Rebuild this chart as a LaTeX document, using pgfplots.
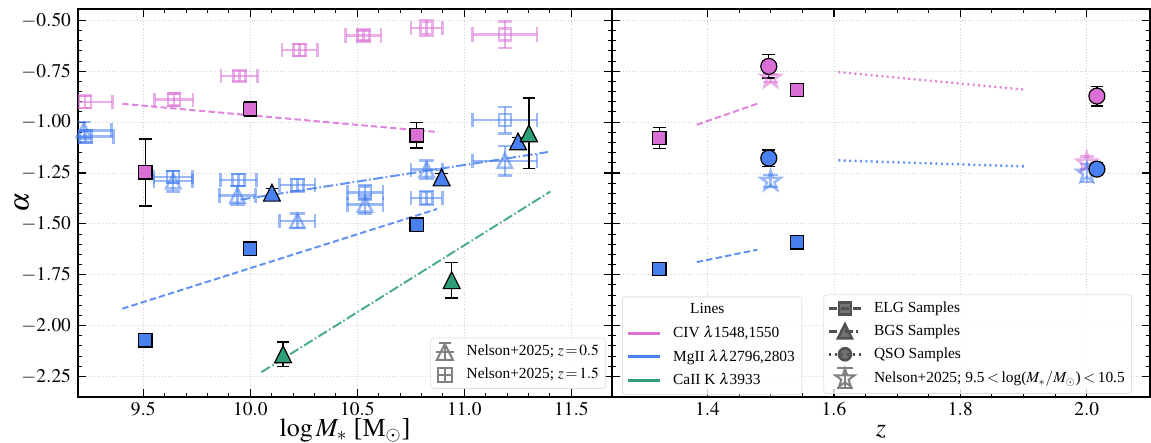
\documentclass[border=0pt]{standalone}
\usepackage{mathptmx}
\usepackage{fontspec}
\setmainfont{Liberation Serif}
\usepackage{pgfplots}
\pgfplotsset{compat=1.18}
\usepackage{pgfplotstable}

\definecolor{cpink}{RGB}{218,112,214}
\definecolor{cblue}{RGB}{72,128,240}
\definecolor{cgreen}{RGB}{46,158,118}
\definecolor{ngray}{RGB}{128,128,128}
\definecolor{dgray}{RGB}{80,80,80}

\pgfdeclareplotmark{mtri}{%
  \pgfpathmoveto{\pgfqpoint{0pt}{\pgfplotmarksize}}%
  \pgfpathlineto{\pgfqpoint{-\pgfplotmarksize}{-\pgfplotmarksize}}%
  \pgfpathlineto{\pgfqpoint{\pgfplotmarksize}{-\pgfplotmarksize}}%
  \pgfpathclose\pgfusepathqfillstroke}
\pgfdeclareplotmark{mtrio}{%
  \pgfpathmoveto{\pgfqpoint{0pt}{\pgfplotmarksize}}%
  \pgfpathlineto{\pgfqpoint{-\pgfplotmarksize}{-\pgfplotmarksize}}%
  \pgfpathlineto{\pgfqpoint{\pgfplotmarksize}{-\pgfplotmarksize}}%
  \pgfpathclose\pgfusepathqstroke}
\pgfdeclareplotmark{fstar}{%
  \pgfpathmoveto{\pgfpointpolar{90}{\pgfplotmarksize}}%
  \pgfpathlineto{\pgfpointpolar{126}{0.382\pgfplotmarksize}}%
  \pgfpathlineto{\pgfpointpolar{162}{\pgfplotmarksize}}%
  \pgfpathlineto{\pgfpointpolar{198}{0.382\pgfplotmarksize}}%
  \pgfpathlineto{\pgfpointpolar{234}{\pgfplotmarksize}}%
  \pgfpathlineto{\pgfpointpolar{270}{0.382\pgfplotmarksize}}%
  \pgfpathlineto{\pgfpointpolar{306}{\pgfplotmarksize}}%
  \pgfpathlineto{\pgfpointpolar{342}{0.382\pgfplotmarksize}}%
  \pgfpathlineto{\pgfpointpolar{18}{\pgfplotmarksize}}%
  \pgfpathlineto{\pgfpointpolar{54}{0.382\pgfplotmarksize}}%
  \pgfpathclose\pgfusepathqstroke}

% ---------------- data: left panel (log M*) ----------------
\pgfplotstableread{
x y ey
9.51 -1.247 0.165
10.0 -0.935 0.037
10.777 -1.065 0.062
}\elgCIV
\pgfplotstableread{
x y ey
9.51 -2.073 0.02
10.0 -1.622 0.02
10.777 -1.504 0.02
}\elgMg
\pgfplotstableread{
x y ey
10.101 -1.347 0.02
10.894 -1.272 0.02
11.251 -1.095 0.02
}\bgsMg
\pgfplotstableread{
x y ey
10.153 -2.141 0.060
10.941 -1.777 0.088
11.302 -1.055 0.174
}\bgsCa
\pgfplotstableread{
x y ex ey
9.227 -0.900 0.13 0.03
9.643 -0.890 0.09 0.03
9.949 -0.773 0.085 0.025
10.230 -0.645 0.083 0.03
10.528 -0.575 0.083 0.025
10.824 -0.537 0.074 0.04
11.189 -0.570 0.15 0.065
}\nelCIVsq
\pgfplotstableread{
x y ex ey
9.230 -1.070 0.13 0.03
9.640 -1.270 0.09 0.03
9.945 -1.285 0.085 0.03
10.220 -1.310 0.083 0.03
10.536 -1.345 0.083 0.035
10.824 -1.373 0.074 0.035
11.189 -0.990 0.15 0.065
}\nelMgsq
\pgfplotstableread{
x y ex ey
9.222 -1.040 0.13 0.04
9.640 -1.290 0.09 0.05
9.940 -1.360 0.085 0.045
10.220 -1.485 0.083 0.035
10.536 -1.405 0.083 0.045
10.824 -1.234 0.074 0.045
11.189 -1.190 0.15 0.073
}\nelMgtri
% ---------------- data: right panel (z) ----------------
\pgfplotstableread{
x y ey
1.324 -1.078 0.052
1.542 -0.841 0.02
}\zelgCIV
\pgfplotstableread{
x y ey
1.324 -1.722 0.02
1.542 -1.591 0.02
}\zelgMg
\pgfplotstableread{
x y ey
1.497 -0.726 0.057
2.016 -0.872 0.048
}\zqsoCIV
\pgfplotstableread{
x y ey
1.497 -1.177 0.04
2.016 -1.231 0.03
}\zqsoMg
\pgfplotstableread{
x y ey
1.5 -0.783 0.02
2.0 -1.200 0.03
}\znelCIV
\pgfplotstableread{
x y ey
1.5 -1.290 0.03
2.0 -1.250 0.045
}\znelMg

\pgfplotsset{
  myax/.style={
    scale only axis, height=194pt,
    ymin=-2.351, ymax=-0.444,
    ytick={-2.25,-2,-1.75,-1.5,-1.25,-1,-0.75,-0.5},
    minor y tick num=4,
    tick align=inside,
    major tick length=3.8pt, minor tick length=2pt,
    every major tick/.append style={black, line width=0.6pt},
    every minor tick/.append style={black, line width=0.5pt},
    axis line style={line width=0.8pt},
    grid=major,
    major grid style={densely dotted, gray!35, line width=0.4pt},
    tick label style={font=\fontsize{9.7}{11}\selectfont},
    xticklabel style={yshift=1pt},
    legend cell align=left,
  },
  nelson/.style={forget plot, only marks, color=#1, opacity=0.55, line width=1.25pt,
    error bars/x dir=both, error bars/x explicit, error bars/y dir=both, error bars/y explicit,
    error bars/error bar style={#1, opacity=0.55, line width=1.25pt},
    error bars/error mark options={#1, opacity=0.55, line width=1.25pt, mark size=3.6pt, rotate=90}},
  nelsony/.style={forget plot, only marks, color=#1, opacity=0.55, line width=1.25pt,
    error bars/y dir=both, error bars/y explicit,
    error bars/error bar style={#1, opacity=0.55, line width=1.25pt},
    error bars/error mark options={#1, opacity=0.55, line width=1.25pt, mark size=3.6pt, rotate=90}},
  mainpt/.style={forget plot, only marks, mark options={fill=#1, draw=black, line width=0.6pt},
    error bars/y dir=both, error bars/y explicit,
    error bars/error bar style={black, line width=0.7pt},
    error bars/error mark options={black, line width=0.7pt, mark size=3.2pt, rotate=90}},
  lgstyle/.style={draw=gray!25, rounded corners=1.5pt, fill=white, fill opacity=0.8,
    text opacity=1, font=\fontsize{7.7}{9.2}\selectfont, inner xsep=2pt, inner ysep=2pt,
    nodes={inner sep=1.4pt}, row sep=1.8pt,
    /tikz/every odd column/.append style={column sep=4.5pt}},
}

\begin{document}
\begin{tikzpicture}
\useasboundingbox (0,0) rectangle (575.5pt,221.5pt);

% ================= left panel =================
\begin{axis}[myax, at={(39pt,23pt)}, anchor=south west, width=267pt,
  xmin=9.195, xmax=11.69,
  xtick={9.5,10,10.5,11,11.5}, minor x tick num=4,
  xticklabel style={/pgf/number format/fixed, /pgf/number format/fixed zerofill, /pgf/number format/precision=1},
  yticklabel style={/pgf/number format/fixed, /pgf/number format/fixed zerofill, /pgf/number format/precision=2},
  xlabel={$\log M_*$ [M$_\odot$]},
  xlabel style={font=\fontsize{13}{15}\selectfont, at={(axis description cs:0.5,-0.103)}, anchor=base},
  ylabel={$\alpha$},
  ylabel style={font=\fontsize{14}{16}\selectfont, inner sep=0pt, at={(axis description cs:-0.105,0.5)}, anchor=center},
  legend style={lgstyle, at={(axis description cs:0.989,0.021)}, anchor=south east},
]
\addlegendimage{legend image code/.code={
  \draw[ngray, line width=1pt, sharp corners] (3.5pt,0pt) -- (12.5pt,0pt) (8pt,-4.2pt) -- (8pt,4.5pt) (5pt,4.5pt) -- (11pt,4.5pt);
  \draw[ngray, line width=1pt, sharp corners] plot[mark=mtrio, mark size=4pt, only marks] coordinates {(8pt,0pt)};}}
\addlegendentry{Nelson+2025; $z\,{=}\,0.5$}
\addlegendimage{legend image code/.code={
  \draw[ngray, line width=1pt, sharp corners] (4pt,0pt) -- (12pt,0pt) (8pt,-3.5pt) -- (8pt,3.5pt);
  \draw[ngray, line width=1pt, sharp corners] plot[mark=square, mark size=3.5pt, only marks] coordinates {(8pt,0pt)};}}
\addlegendentry{Nelson+2025; $z\,{=}\,1.5$}

% Nelson+2025 comparison points
\addplot[nelson=cpink, mark=square, mark size=3pt] table[x=x,y=y,x error=ex,y error=ey]{\nelCIVsq};
\addplot[nelson=cblue, mark=square, mark size=3pt] table[x=x,y=y,x error=ex,y error=ey]{\nelMgsq};
\addplot[nelson=cblue, mark=mtrio, mark size=3.6pt] table[x=x,y=y,x error=ex,y error=ey]{\nelMgtri};

% fits
\addplot[forget plot, cpink, opacity=0.85, line width=1pt, dash pattern=on 3.2pt off 1.6pt] coordinates {(9.402,-0.910) (10.878,-1.049)};
\addplot[forget plot, cblue, opacity=0.85, line width=1pt, dash pattern=on 3.2pt off 1.6pt] coordinates {(9.402,-1.917) (10.873,-1.427)};
\addplot[forget plot, cblue, opacity=0.85, line width=1pt, dash pattern=on 5pt off 1.3pt on 0.8pt off 1.3pt] coordinates {(9.954,-1.381) (11.391,-1.147)};
\addplot[forget plot, cgreen, opacity=0.85, line width=1pt, dash pattern=on 5pt off 1.3pt on 0.8pt off 1.3pt] coordinates {(10.052,-2.229) (11.402,-1.341)};

% measurements
\addplot[mainpt=cpink, mark=square*, mark size=3.3pt] table[x=x,y=y,y error=ey]{\elgCIV};
\addplot[mainpt=cblue, mark=square*, mark size=3.3pt] table[x=x,y=y,y error=ey]{\elgMg};
\addplot[mainpt=cblue, mark=mtri, mark size=4.2pt] table[x=x,y=y,y error=ey]{\bgsMg};
\addplot[mainpt=cgreen, mark=mtri, mark size=4.2pt] table[x=x,y=y,y error=ey]{\bgsCa};
\end{axis}

% ================= right panel =================
\begin{axis}[myax, at={(306pt,23pt)}, anchor=south west, width=269pt,
  xmin=1.249, xmax=2.1,
  xtick={1.4,1.6,1.8,2.0}, minor x tick num=3,
  xticklabel style={/pgf/number format/fixed, /pgf/number format/fixed zerofill, /pgf/number format/precision=1},
  yticklabels={},
  xlabel={$z$},
  xlabel style={font=\fontsize{13}{15}\selectfont, at={(axis description cs:0.5,-0.103)}, anchor=base},
  legend style={lgstyle, at={(axis description cs:0.0186,0.005)}, anchor=south west},
  legend image code/.code={\draw[#1] (0pt,0pt) -- (16pt,0pt);},
]
\addlegendimage{empty legend}
\addlegendentry{\makebox[0pt][l]{\hspace*{8.5pt}Lines}}
\addlegendimage{cpink, line width=1.5pt}
\addlegendentry{CIV $\lambda$1548,1550}
\addlegendimage{cblue, line width=1.5pt}
\addlegendentry{MgII $\lambda\lambda$2796,2803}
\addlegendimage{cgreen, line width=1.5pt}
\addlegendentry{CaII K $\lambda$3933}

\addplot[nelsony=cpink, mark=fstar, mark size=5.2pt] table[x=x,y=y,y error=ey]{\znelCIV};
\addplot[nelsony=cblue, mark=fstar, mark size=5.2pt] table[x=x,y=y,y error=ey]{\znelMg};

\addplot[forget plot, cpink, opacity=0.85, line width=1pt, dash pattern=on 3.2pt off 1.6pt] coordinates {(1.383,-1.013) (1.482,-0.906)};
\addplot[forget plot, cblue, opacity=0.85, line width=1pt, dash pattern=on 3.2pt off 1.6pt] coordinates {(1.383,-1.688) (1.479,-1.627)};
\addplot[forget plot, cpink, opacity=0.85, line width=1.2pt, dash pattern=on 1pt off 1.7pt] coordinates {(1.607,-0.754) (1.903,-0.841)};
\addplot[forget plot, cblue, opacity=0.85, line width=1.2pt, dash pattern=on 1pt off 1.7pt] coordinates {(1.607,-1.188) (1.903,-1.218)};

\addplot[mainpt=cpink, mark=square*, mark size=3.3pt] table[x=x,y=y,y error=ey]{\zelgCIV};
\addplot[mainpt=cblue, mark=square*, mark size=3.3pt] table[x=x,y=y,y error=ey]{\zelgMg};
\addplot[mainpt=cpink, mark=*, mark size=4pt] table[x=x,y=y,y error=ey]{\zqsoCIV};
\addplot[mainpt=cblue, mark=*, mark size=4pt] table[x=x,y=y,y error=ey]{\zqsoMg};
\end{axis}

% second legend of the right panel
\begin{axis}[at={(306pt,23pt)}, anchor=south west, scale only axis, width=269pt, height=194pt,
  hide axis, xmin=0, xmax=1, ymin=0, ymax=1,
  legend cell align=left,
  legend style={lgstyle, at={(axis description cs:0.9665,0.008)}, anchor=south east},
  legend image code/.code={\draw[mark repeat=2, mark phase=2, #1] plot coordinates {(0pt,0pt) (8pt,0pt) (16pt,0pt)};},
]
\addlegendimage{dgray, line width=1.3pt, dash pattern=on 4pt off 2pt, mark=square*, mark size=3pt, mark options={solid}}
\addlegendentry{ELG Samples}
\addlegendimage{dgray, line width=1.3pt, dash pattern=on 4pt off 1.5pt on 1pt off 1.5pt, mark=mtri, mark size=3.5pt, mark options={solid, fill=dgray}}
\addlegendentry{BGS Samples}
\addlegendimage{dgray, line width=1.3pt, dash pattern=on 1.2pt off 1.8pt, mark=*, mark size=3pt, mark options={solid}}
\addlegendentry{QSO Samples}
\addlegendimage{legend image code/.code={
  \draw[ngray, line width=1pt, sharp corners] (8pt,-5pt) -- (8pt,5pt) (4pt,5pt) -- (12pt,5pt) (4pt,-5pt) -- (12pt,-5pt);
  \draw[ngray, line width=1pt, sharp corners] plot[mark=fstar, mark size=5pt, only marks] coordinates {(8pt,0pt)};}}
\addlegendentry{Nelson+2025; 9.5\,$<$\,log($M_*/M_\odot$)\,$<$\,10.5}
\end{axis}
\end{tikzpicture}
\end{document}
